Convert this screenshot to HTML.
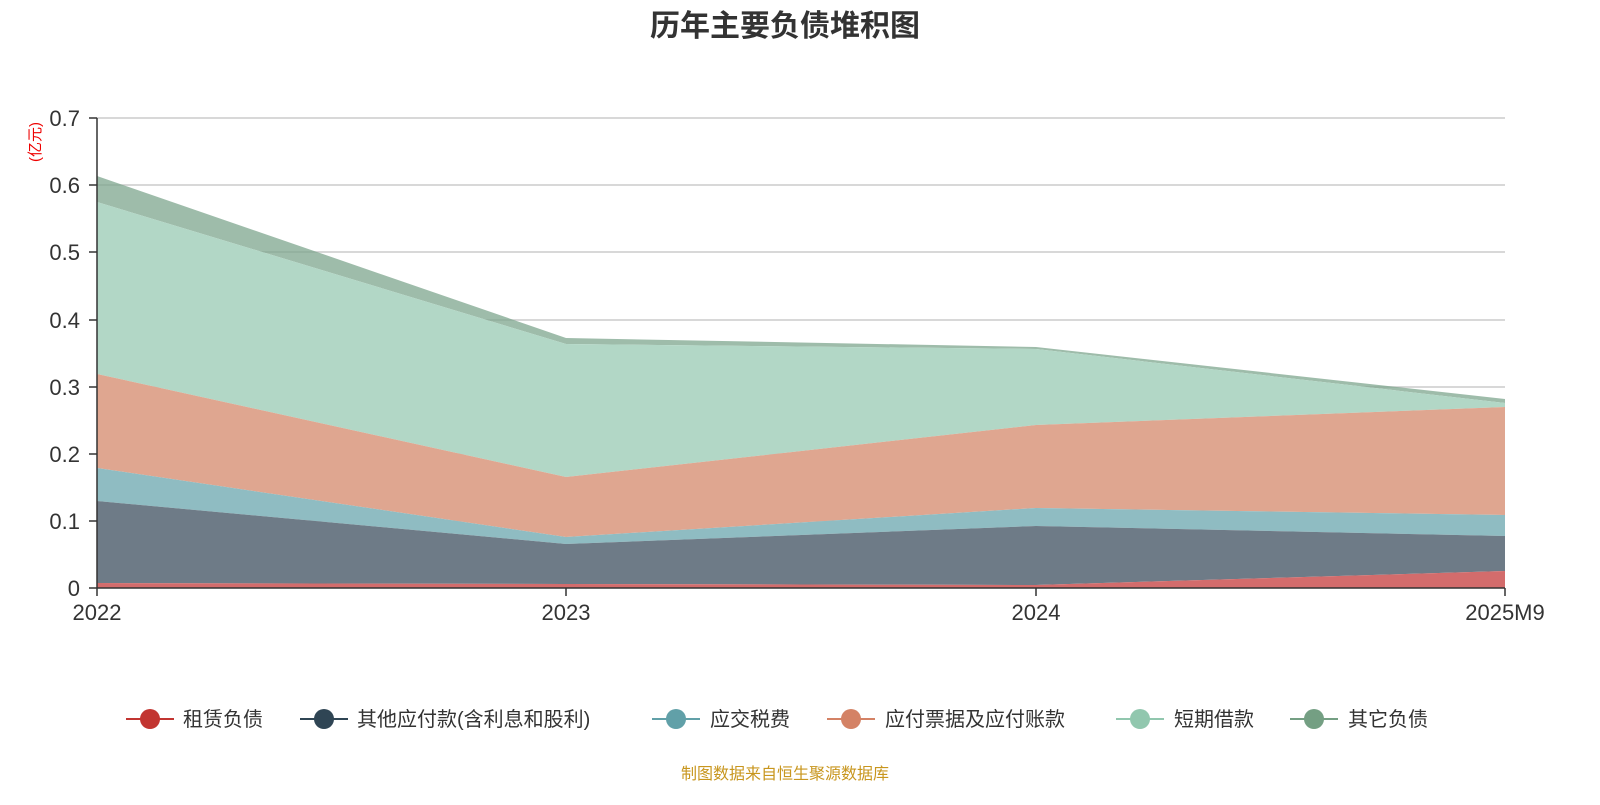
<!DOCTYPE html>
<html><head><meta charset="utf-8"><style>
body{margin:0;background:#fff;width:1600px;height:800px;overflow:hidden;font-family:"Liberation Sans","Noto Sans CJK SC",sans-serif}
</style></head><body>
<svg width="1600" height="800" xmlns="http://www.w3.org/2000/svg" font-family="Liberation Sans, Noto Sans CJK SC, sans-serif">
<text x="785" y="36" text-anchor="middle" font-size="30" font-weight="bold" fill="#333">历年主要负债堆积图</text>
<g stroke="#ccc" stroke-width="1.5">
<line x1="97" y1="118" x2="1505" y2="118"/><line x1="97" y1="185" x2="1505" y2="185"/><line x1="97" y1="252" x2="1505" y2="252"/><line x1="97" y1="320" x2="1505" y2="320"/><line x1="97" y1="387" x2="1505" y2="387"/><line x1="97" y1="454" x2="1505" y2="454"/><line x1="97" y1="521" x2="1505" y2="521"/>
</g>
<polygon fill="#7ea58d" fill-opacity="0.75" points="97,176 566,338 1036,347 1505,399 1505,403 1036,349 566,344 97,202"/>
<polygon fill="#b2d7c6" points="97,202 566,344 1036,349 1505,403 1505,407 1036,425 566,477 97,374"/>
<polygon fill="#dfa690" points="97,374 566,477 1036,425 1505,407 1505,515 1036,508 566,537 97,468"/>
<polygon fill="#8fbcc2" points="97,468 566,537 1036,508 1505,515 1505,536 1036,526 566,544 97,501"/>
<polygon fill="#6e7b87" points="97,501 566,544 1036,526 1505,536 1505,571 1036,585 566,584 97,583"/>
<polygon fill="#d36c6c" points="97,583 566,584 1036,585 1505,571 1505,588 97,588"/>
<g stroke="#333" stroke-width="1.5">
<line x1="97" y1="118" x2="97" y2="588"/><line x1="97" y1="588" x2="1505" y2="588"/>
<line x1="89" y1="118" x2="97" y2="118"/><line x1="89" y1="185" x2="97" y2="185"/><line x1="89" y1="252" x2="97" y2="252"/><line x1="89" y1="320" x2="97" y2="320"/><line x1="89" y1="387" x2="97" y2="387"/><line x1="89" y1="454" x2="97" y2="454"/><line x1="89" y1="521" x2="97" y2="521"/><line x1="89" y1="588" x2="97" y2="588"/>
<line x1="97" y1="588" x2="97" y2="596"/><line x1="566" y1="588" x2="566" y2="596"/><line x1="1036" y1="588" x2="1036" y2="596"/><line x1="1505" y1="588" x2="1505" y2="596"/>
</g>
<g font-size="22" fill="#333" text-anchor="end">
<text x="80" y="126">0.7</text><text x="80" y="193">0.6</text><text x="80" y="260">0.5</text><text x="80" y="328">0.4</text><text x="80" y="395">0.3</text><text x="80" y="462">0.2</text><text x="80" y="529">0.1</text><text x="80" y="596">0</text>
</g>
<g font-size="22" fill="#333" text-anchor="middle">
<text x="97" y="620">2022</text><text x="566" y="620">2023</text><text x="1036" y="620">2024</text><text x="1505" y="620">2025M9</text>
</g>
<text transform="translate(40,142) rotate(-90)" text-anchor="middle" font-size="15" fill="#e00">(亿元)</text>
<g font-size="20" fill="#333">
<line x1="126" y1="719" x2="174" y2="719" stroke="#c23531" stroke-width="2"/><circle cx="150" cy="719" r="10" fill="#c23531"/><text x="183" y="726">租赁负债</text>
<line x1="300" y1="719" x2="348" y2="719" stroke="#2f4554" stroke-width="2"/><circle cx="324" cy="719" r="10" fill="#2f4554"/><text x="357" y="726">其他应付款(含利息和股利)</text>
<line x1="652" y1="719" x2="700" y2="719" stroke="#61a0a8" stroke-width="2"/><circle cx="676" cy="719" r="10" fill="#61a0a8"/><text x="710" y="726">应交税费</text>
<line x1="827" y1="719" x2="875" y2="719" stroke="#d48265" stroke-width="2"/><circle cx="851" cy="719" r="10" fill="#d48265"/><text x="885" y="726">应付票据及应付账款</text>
<line x1="1116" y1="719" x2="1164" y2="719" stroke="#91c7ae" stroke-width="2"/><circle cx="1140" cy="719" r="10" fill="#91c7ae"/><text x="1174" y="726">短期借款</text>
<line x1="1290" y1="719" x2="1338" y2="719" stroke="#749f83" stroke-width="2"/><circle cx="1314" cy="719" r="10" fill="#749f83"/><text x="1348" y="726">其它负债</text>
</g>
<text x="785" y="779" text-anchor="middle" font-size="16" fill="#c8961e">制图数据来自恒生聚源数据库</text>
</svg>
</body></html>
